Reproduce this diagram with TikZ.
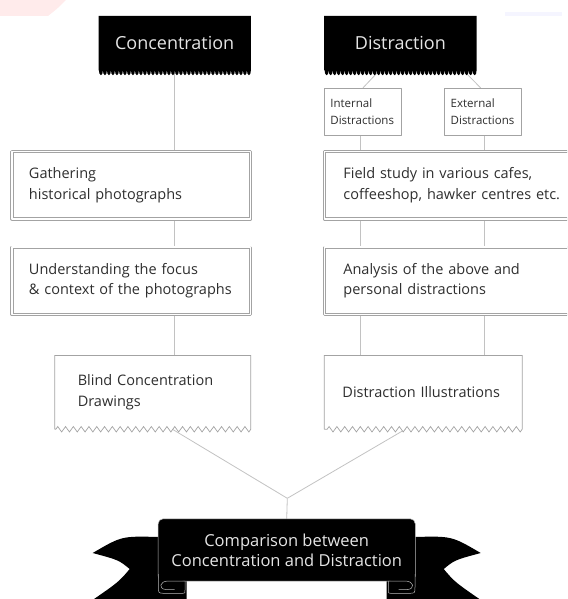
\documentclass[tikz,border=0pt]{standalone}
\usepackage{fontspec}
\setmainfont{Open Sans}
\usetikzlibrary{calc,backgrounds,decorations.pathmorphing}
\definecolor{linegray}{rgb}{0.76,0.76,0.76}
\definecolor{boxgray}{rgb}{0.64,0.64,0.64}
\definecolor{txtgray}{rgb}{0.18,0.18,0.18}
\definecolor{headtxt}{rgb}{0.90,0.90,0.90}

\begin{document}
\begin{tikzpicture}[x=1pt,y=-1pt,line cap=round,line join=round,
    link/.style={draw=linegray,line width=0.8pt},
    head/.style={minimum width=152,minimum height=54,inner sep=0,text=headtxt,font=\fontsize{18}{21}\selectfont},
    tag/.style={draw=boxgray,fill=white,line width=0.7pt,minimum width=77,minimum height=47.4,inner xsep=6,inner ysep=0,text width=65,align=left,text=txtgray,font=\fontsize{11.5}{17}\selectfont},
    dbox/.style={draw=boxgray,line width=0.8pt,double=white,double distance=1.6pt,minimum height=67.3,inner xsep=17,inner ysep=0,align=left,text=txtgray,font=\fontsize{14.5}{20.5}\selectfont},
    jbox/.style={minimum height=73.3,inner xsep=22.8,inner ysep=0,align=left,text=txtgray,font=\fontsize{14.5}{21.5}\selectfont},
    banner/.style={minimum width=256.7,minimum height=62,inner sep=0,align=center,text=headtxt,font=\fontsize{16.5}{20}\selectfont}]
    \useasboundingbox (0,0) rectangle (567,599);
    \clip (0,0) rectangle (567,599);
    \fill[red!8] (0,0) -- (66,0) .. controls (58,8) .. (48,16) -- (0,16) -- cycle;
    \fill[blue!4] (505,12) rectangle (562,16);

    \node[head] (conc) at (174.7,43) {Concentration};
    \node[head] (dist) at (400.4,43) {Distraction};
    \node[tag] (intd) at (362.9,112) {Internal\\Distractions};
    \node[tag] (extd) at (483.2,112) {External\\Distractions};
    \node[dbox,minimum width=238.7,text width=204.7] (gath) at (131.3,185.3) {Gathering\\historical photographs};
    \node[dbox,minimum width=280,text width=242,inner xsep=19] (field) at (464.4,185.3) {Field study in various cafes,\\coffeeshop, hawker centres etc.};
    \node[dbox,minimum width=238.7,text width=204.7] (under) at (131.3,280.8) {Understanding the focus\\\& context of the photographs};
    \node[dbox,minimum width=280,text width=242,inner xsep=19] (anal) at (464.4,280.8) {Analysis of the above and\\personal distractions};
    \node[jbox,minimum width=195.6,text width=150] (blind) at (152.8,392.4) {Blind Concentration\\Drawings};
    \node[jbox,minimum width=197.5,text width=161.5,inner xsep=18] (illus) at (423.2,392.4) {Distraction Illustrations};
    \coordinate (join) at (287.3,498.3);
    \node[banner] (cmp) at (286.7,550) {Comparison between\\Concentration and Distraction};

    \begin{scope}[on background layer]
    \draw[link] (conc.south) -- (conc.south |- gath.north);
    \draw[link] (conc.south |- gath.south) -- (conc.south |- under.north);
    \draw[link] (conc.south |- under.south) -- (conc.south |- blind.north);
    \draw[link] ($(dist.south west)!0.364!(dist.south east)$) -- (intd.north);
    \draw[link] ($(dist.south west)!0.912!(dist.south east)$) -- ([xshift=-2.5]extd.north);
    \foreach \n/\dx in {intd/-3,extd/0.7} {
      \draw[link] ([xshift=\dx]\n.south) -- ([xshift=\dx]\n.south |- field.north);
      \draw[link] ([xshift=\dx]\n.south |- field.south) -- ([xshift=\dx]\n.south |- anal.north);
      \draw[link] ([xshift=\dx]\n.south |- anal.south) -- ([xshift=\dx]\n.south |- illus.north);
    }
    \draw[link] ($(blind.south west)!0.6!(blind.south east)$) -- (join);
    \draw[link] ($(illus.south west)!0.41!(illus.south east)$) -- (join);
    \draw[link] (join) -- (cmp.north);

    \foreach \n in {conc,dist}
      \fill (\n.north west) -- (\n.north east) -- (\n.south east) decorate[decoration={bumps,segment length=8,amplitude=5}] {-- (\n.south west)} -- cycle;
    \foreach \n in {blind,illus}
      \filldraw[fill=white,draw=boxgray,line width=0.7pt] (\n.south west) -- (\n.north west) -- (\n.north east) -- (\n.south east) decorate[decoration={zigzag,segment length=7.8,amplitude=2.7}] {-- (\n.south west)};

    \begin{scope}[shift={(cmp.center)}]
    \foreach \s in {1,-1}
      \fill[xscale=\s] (-128,-13) .. controls (-165,-14) .. (-194,3) .. controls (-168,10) .. (-157,19) .. controls (-168,32) .. (-197,52) -- (-100,52) -- (-100,20) -- cycle;
    \end{scope}
    \filldraw[fill=black,draw=gray!55,line width=0.5pt,rounded corners=5] (cmp.south west) rectangle (cmp.north east);
    \foreach \s in {1,-1} {
      \begin{scope}[shift={(cmp.center)},xscale=\s]
      \filldraw[fill=black,draw=gray!55,line width=0.5pt] (-128.3,24) -- (-128.3,37) .. controls (-128.3,43.3) .. (-122,43.3) -- (-104,43.3) .. controls (-101.7,43.3) .. (-101.7,40) -- (-101.7,31);
      \draw[gray!55,line width=0.5pt] (-101.7,31) -- (-118,31) .. controls (-128,31) and (-128,39) .. (-121,39.5) -- (-112,39.5);
      \end{scope}
    }
    \end{scope}
\end{tikzpicture}
\end{document}
